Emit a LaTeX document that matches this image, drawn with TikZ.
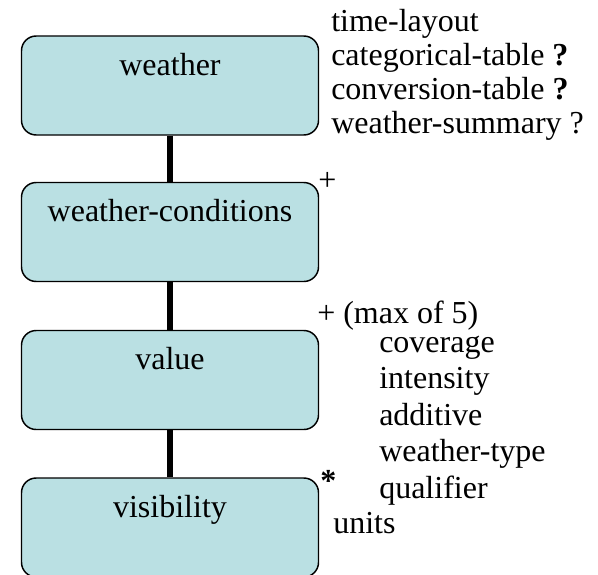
\documentclass[tikz,border=0pt]{standalone}
\usepackage{fontspec}
\setmainfont{Liberation Serif}
\definecolor{boxcyan}{RGB}{186,224,227}
\tikzset{
  elem/.style={draw=black, line width=1.1pt, fill=boxcyan, rounded corners=11pt,
    minimum width=222.75pt, minimum height=74.25pt, inner sep=0pt,
    text height=15pt, text depth=30.5pt},
  link/.style={line width=4.5pt},
  note/.style={anchor=base west, inner sep=0pt}
}

\begin{document}
\begin{tikzpicture}[x=0.75pt,y=0.75pt,yscale=-1,xscale=1,font=\fontsize{24}{28}\selectfont]
\clip (0,0) rectangle (598,574);

%Boxes
\node[elem] (weather) at (170,85.5) {weather};
\node[elem] (conditions) at (170,232) {weather-conditions};
\node[elem] (value) at (170,380) {value};
\node[elem] (visibility) at (170,527.5) {visibility};

%Links
\draw[link] (weather) -- (conditions);
\draw[link] (conditions) -- (value);
\draw[link] (value) -- (visibility);

% Text Node
\node[note] (timelayout) at (331,31.5) {time-layout};
\node[note] (categorical) at (331,65.5) {categorical-table \textbf{?}};
\node[note] (conversion) at (331,99.5) {conversion-table \textbf{?}};
\node[note] (summary) at (331,133.5) {weather-summary ?};
% Text Node
\node[note] (plusone) at (318,190) {+};
% Text Node
\node[note] (plustwo) at (317,323) {+ (max of 5)};
\node[note] (coverage) at (379,352) {coverage};
\node[note] (intensity) at (379,388.5) {intensity};
\node[note] (additive) at (379,425) {additive};
\node[note] (wtype) at (379,461.5) {weather-type};
\node[note] (qualifier) at (379,498) {qualifier};
% Text Node
\node[note] (star) at (320,491) {\textbf{*}};
\node[note] (units) at (333,533.5) {units};

\end{tikzpicture}
\end{document}
